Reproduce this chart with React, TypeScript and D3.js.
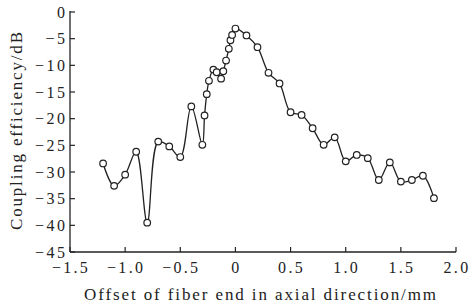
import { scaleLinear, line, curveCatmullRom } from "d3";

const W = 473;
const H = 306;
const MARGIN = { top: 12, left: 70, bottom: 54, right: 17 };

// offset of fiber end (mm) and coupling efficiency (dB)
const offsets = [
  -1.2, -1.1, -1.0, -0.9, -0.8, -0.7, -0.6, -0.5, -0.4, -0.3, -0.28, -0.26,
  -0.24, -0.2, -0.17, -0.13, -0.11, -0.085, -0.06, -0.045, -0.03, 0, 0.1, 0.2,
  0.3, 0.4, 0.5, 0.6, 0.7, 0.8, 0.9, 1.0, 1.1, 1.2, 1.3, 1.4, 1.5, 1.6, 1.7,
  1.8,
];
const efficiency = [
  -28.4, -32.6, -30.5, -26.2, -39.5, -24.3, -25.2, -27.2, -17.7, -24.9, -19.4,
  -15.4, -12.9, -10.8, -11.3, -12.5, -11.1, -9.1, -6.9, -5.3, -4.3, -3.1, -4.4,
  -6.6, -11.4, -13.4, -18.8, -19.3, -21.8, -24.9, -23.5, -28.0, -26.8, -27.4,
  -31.5, -28.2, -31.8, -31.5, -30.7, -34.9,
];

const xTicks = [-1.5, -1.0, -0.5, 0, 0.5, 1.0, 1.5, 2.0];
const xTickLabels = ["\u22121.5", "\u22121.0", "\u22120.5", "0", "0.5", "1.0", "1.5", "2.0"];
const yTicks = [0, -5, -10, -15, -20, -25, -30, -35, -40, -45];

const FONT = "'Liberation Serif', 'Times New Roman', serif";

export default function App() {
  const boundsWidth = W - MARGIN.left - MARGIN.right;
  const boundsHeight = H - MARGIN.top - MARGIN.bottom;

  const xScale = scaleLinear().domain([-1.5, 2.0]).range([0, boundsWidth]);
  const yScale = scaleLinear().domain([-45, 0]).range([boundsHeight, 0]);

  const points = offsets.map((x, i) => [x, efficiency[i]] as [number, number]);
  const path = line<[number, number]>()
    .x((d) => xScale(d[0]))
    .y((d) => yScale(d[1]))
    .curve(curveCatmullRom.alpha(0.5));

  return (
    <svg
      width={W}
      height={H}
      style={{ position: "absolute", left: 0, top: 0, background: "#fff" }}
      fontFamily={FONT}
    >
      <g transform={`translate(${MARGIN.left},${MARGIN.top})`}>
        {/* axes */}
        <line x1={0} x2={0} y1={-1} y2={boundsHeight} stroke="#222" strokeWidth={1.3} />
        <line x1={0} x2={boundsWidth} y1={boundsHeight} y2={boundsHeight} stroke="#222" strokeWidth={1.3} />

        {yTicks.map((v) => (
          <g key={v}>
            <line x1={0} x2={5} y1={yScale(v)} y2={yScale(v)} stroke="#222" strokeWidth={1.2} />
            <text
              x={-2.5}
              y={yScale(v)}
              dy="0.35em"
              textAnchor="end"
              fontSize={16}
              letterSpacing={2.5}
              fill="#222"
            >
              {v === 0 ? "0" : `\u2212${Math.abs(v)}`}
            </text>
          </g>
        ))}

        {xTicks.map((v, i) => (
          <g key={v}>
            <line x1={xScale(v)} x2={xScale(v)} y1={boundsHeight} y2={boundsHeight - 5} stroke="#222" strokeWidth={1.2} />
            <text
              x={xScale(v) + 1}
              y={boundsHeight + 21}
              textAnchor="middle"
              fontSize={16}
              letterSpacing={2.3}
              fill="#222"
            >
              {xTickLabels[i]}
            </text>
          </g>
        ))}

        <path d={path(points) ?? ""} fill="none" stroke="#222" strokeWidth={1.3} />

        {points.map((d, i) => (
          <circle
            key={i}
            cx={xScale(d[0])}
            cy={yScale(d[1])}
            r={3.3}
            fill="#fff"
            stroke="#222"
            strokeWidth={1.2}
          />
        ))}
      </g>

      <text
        x={84}
        y={300}
        fontSize={17}
        textLength={352}
        lengthAdjust="spacing"
        fill="#222"
      >
        Offset of fiber end in axial direction/mm
      </text>
      <text
        transform={`translate(22,230) rotate(-90)`}
        x={0}
        y={0}
        fontSize={17}
        textLength={198}
        lengthAdjust="spacing"
        fill="#222"
      >
        Coupling efficiency/dB
      </text>
    </svg>
  );
}
